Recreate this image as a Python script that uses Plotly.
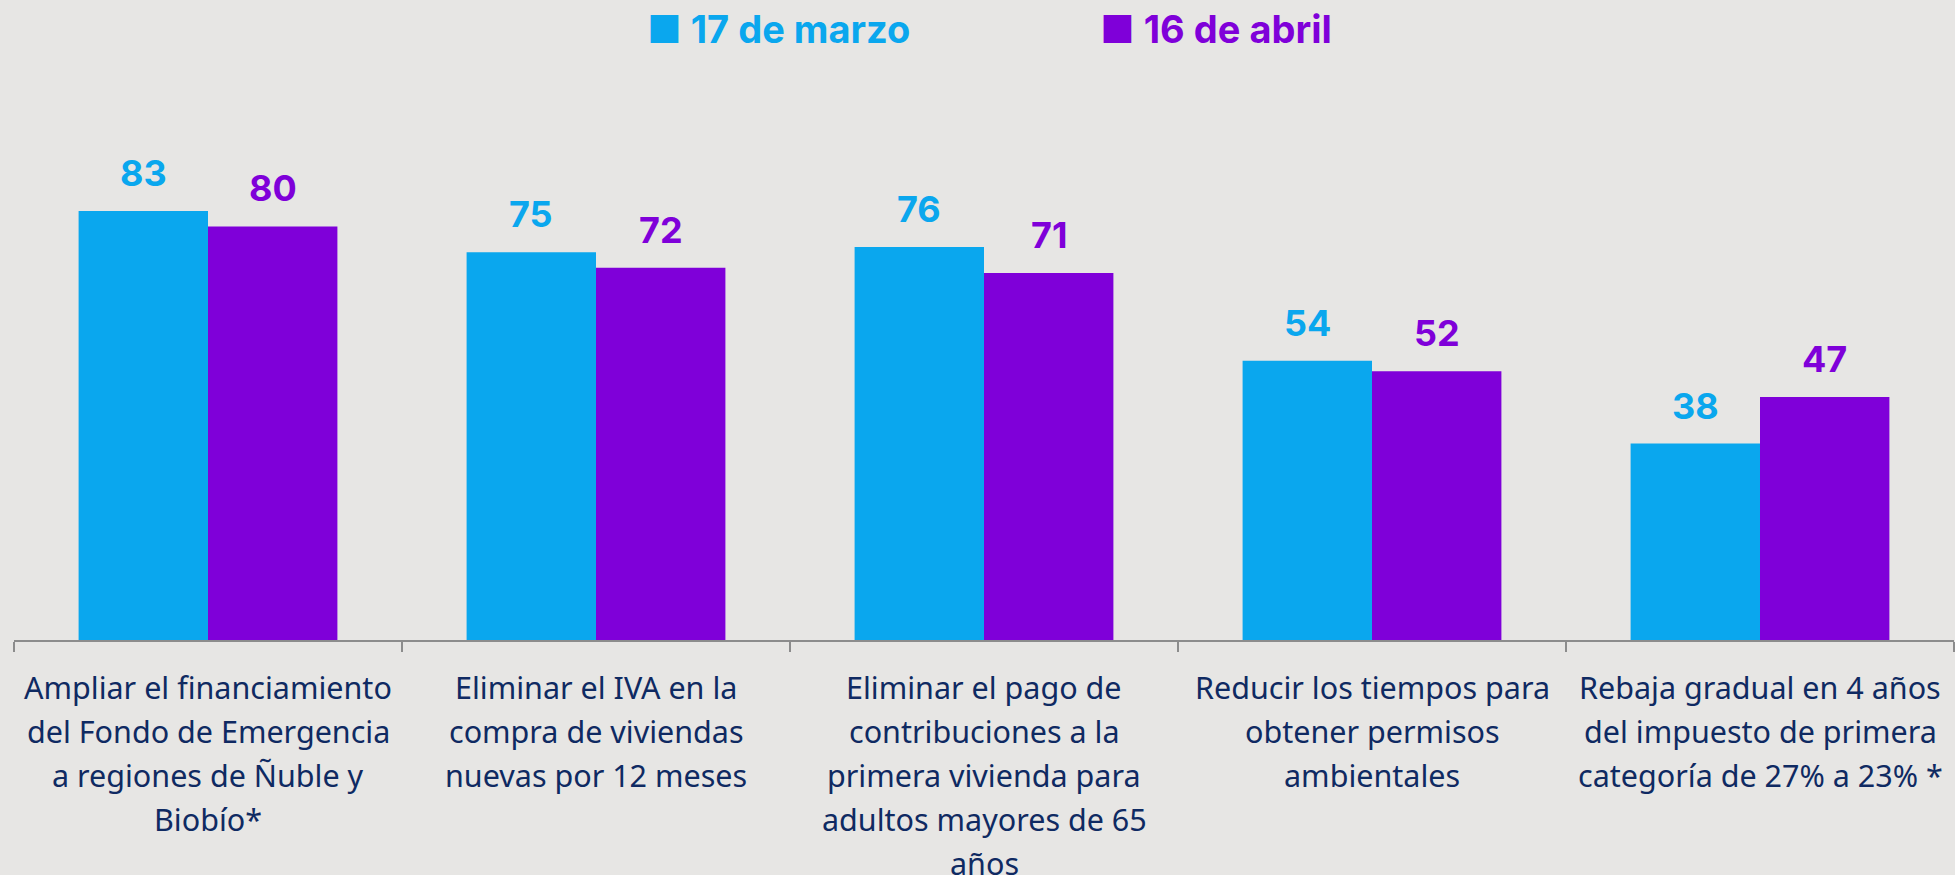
import plotly.graph_objects as go

# ---- data ----
category_lines = [
    ["Ampliar el financiamiento", "del Fondo de Emergencia", "a regiones de Ñuble y", "Biobío*"],
    ["Eliminar el IVA en la", "compra de viviendas", "nuevas por 12 meses"],
    ["Eliminar el pago de", "contribuciones a la", "primera vivienda para", "adultos mayores de 65", "años"],
    ["Reducir los tiempos para", "obtener permisos", "ambientales"],
    ["Rebaja gradual en 4 años", "del impuesto de primera", "categoría de 27% a 23% *"],
]
categories = [" ".join(lines) for lines in category_lines]
series_names = ["17 de marzo", "16 de abril"]
marzo = [83, 75, 76, 54, 38]
abril = [80, 72, 71, 52, 47]

BLUE = "#0AA7EE"
PURPLE = "#7F00D9"
NAVY = "#0F2A62"
BG = "#E7E6E4"

W, H = 1955, 875
ML, MR, MT, MB = 14, 1, 70, 235
PW, PH = W - ML - MR, H - MT - MB

fig = go.Figure()
for name, vals, col in [(series_names[0], marzo, BLUE), (series_names[1], abril, PURPLE)]:
    fig.add_trace(go.Bar(name=name, x=categories, y=vals, marker=dict(color=col, line=dict(width=0)),
                         showlegend=False, hoverinfo="skip"))

annotations = []
# value labels
half = (1 - 0.333) / 4
for k, (vals, col) in enumerate([(marzo, BLUE), (abril, PURPLE)]):
    off = -half if k == 0 else half
    for i, v in enumerate(vals):
        annotations.append(dict(x=i + off, y=v, xref="x", yref="y", text=f"<b>{v}</b>",
                                showarrow=False, yanchor="middle", yshift=38,
                                font=dict(family="Inter", size=36, color=col)))
# category labels, one line per annotation
for i, lines in enumerate(category_lines):
    for j, ln in enumerate(lines):
        annotations.append(dict(x=categories[i], y=0, xref="x", yref="y", text=ln,
                                showarrow=False, yanchor="middle", xanchor="center",
                                yshift=-(47 + 44 * j),
                                font=dict(family="Noto Sans", size=30.5, color=NAVY)))
# legend (as text with square glyph)
legend_px = [645, 1098]
for name, col, lx in zip(series_names, [BLUE, PURPLE], legend_px):
    annotations.append(dict(x=(lx - ML) / PW, y=1 + (MT - 29) / PH, xref="paper", yref="paper",
                            xanchor="left", yanchor="middle", showarrow=False,
                            text=f"<b>■ {name}</b>",
                            font=dict(family="Inter", size=38, color=col)))

fig.update_layout(
    width=W, height=H,
    paper_bgcolor=BG, plot_bgcolor=BG,
    barmode="group", bargap=0.333, bargroupgap=0,
    margin=dict(l=ML, r=MR, t=MT, b=MB),
    annotations=annotations,
    xaxis=dict(type="category", showticklabels=False, ticks="outside", tickson="boundaries",
               ticklen=10, tickwidth=2, tickcolor="#8C8C8C",
               showline=True, linecolor="#8C8C8C", linewidth=2, showgrid=False, fixedrange=True),
    yaxis=dict(range=[0, 110.25], visible=False, showgrid=False, zeroline=False, fixedrange=True),
)
fig.write_html("out.html", config={"displayModeBar": False},
               post_script="document.body.style.margin='0';document.body.style.background='%s';" % BG)
